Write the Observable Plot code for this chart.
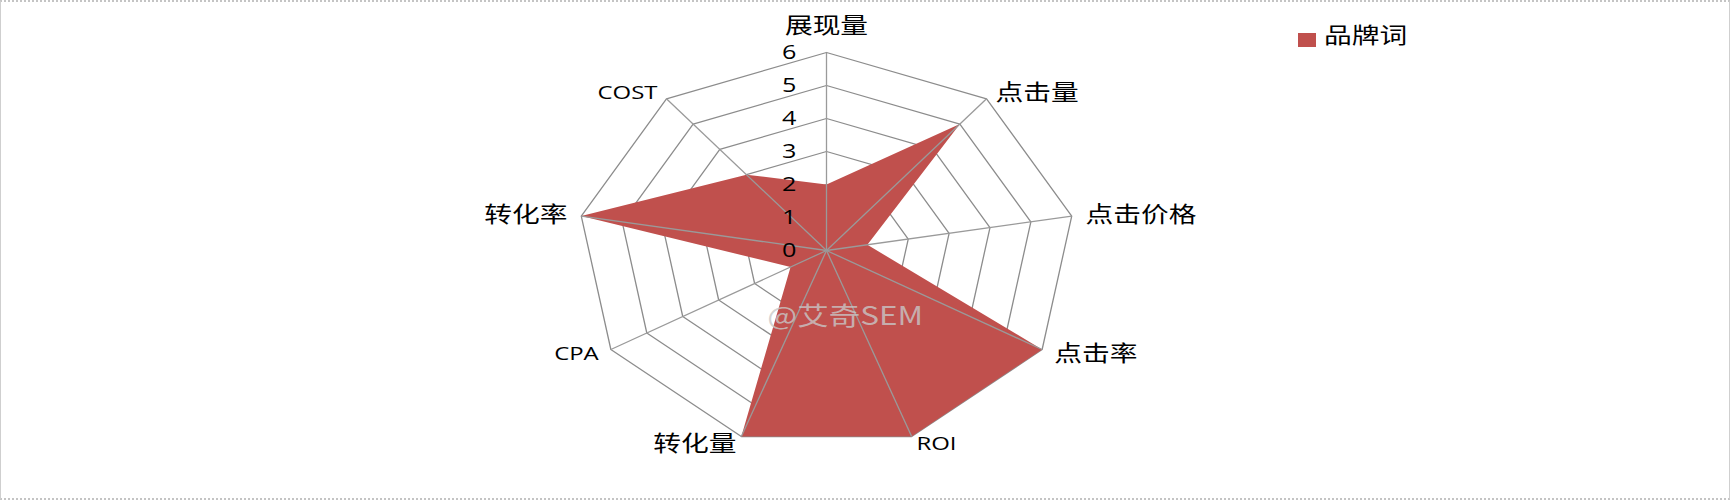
<!DOCTYPE html>
<html>
<head>
<meta charset="utf-8">
<script src="https://cdn.jsdelivr.net/npm/d3@7"></script>
<script src="https://cdn.jsdelivr.net/npm/@observablehq/plot@0.6"></script>
<style>
  html, body { margin: 0; padding: 0; background: #fff; }
  #wrap { position: relative; width: 1730px; height: 500px; overflow: hidden; background: #fff; }
  #frame { position: absolute; left: 0; top: 0; width: 1730px; height: 500px; box-sizing: border-box;
           border-left: 1px solid #cfcfcf; border-right: 1px solid #cfcfcf;
           border-top: 2px dotted #c4c4c4; border-bottom: 2px dotted #c4c4c4; pointer-events: none; }
  #legend { position: absolute; left: 1298px; top: 18px; display: flex; align-items: flex-start;
            font-family: "Noto Sans CJK SC", sans-serif; font-size: 22px; line-height: 30px; color: #000; }
  #legend .sw { width: 18px; height: 14px; background: #C0504D; margin-right: 8px; margin-top: 15px; }
  #legend .lb { display: inline-block; transform: scaleX(1.26); transform-origin: left center; }
</style>
</head>
<body>
<div id="wrap">
  <div id="chart"></div>
  <div id="legend"><div class="sw"></div><span class="lb" id="legendLabel"></span></div>
  <div id="frame"></div>
</div>
<script>
// ---- data ----
const axes = ["展现量", "点击量", "点击价格", "点击率", "ROI", "转化量", "CPA", "转化率", "COST"];
const values = [2, 5, 1, 6, 6, 6, 1, 6, 3];
const ticks = [0, 1, 2, 3, 4, 5, 6];
const seriesName = "品牌词";
const maxValue = 6;
const watermark = "@艾奇SEM";

// ---- helpers ----
const n = axes.length;
const ang = i => 2 * Math.PI * i / n;
const px = (r, i) => r * Math.sin(ang(i));
const py = (r, i) => r * Math.cos(ang(i));

const rings = ticks.filter(t => t > 0).flatMap(t => axes.map((a, i) => ({t, i})));
const pts = values.map((v, i) => ({v, i}));
const isLatin = s => /^[A-Za-z]+$/.test(s);

const labelMarks = axes.map((name, i) => {
  const s = Math.sin(ang(i)), c = Math.cos(ang(i));
  const anchor = s > 0.1 ? "start" : s < -0.1 ? "end" : "middle";
  const top = Math.abs(s) < 0.1 && c > 0;
  return Plot.text([name], {
    x: px(maxValue, i), y: py(maxValue, i), text: d => d,
    textAnchor: anchor,
    dx: 14 * s,
    dy: top ? -27 : -8 * c,
    fontSize: isLatin(name) ? 19 : 22,
    fontWeight: 400,
    fontFamily: isLatin(name) ? "'Open Sans', 'Noto Sans', sans-serif" : "'Noto Sans CJK SC', sans-serif",
    fill: "#000"
  });
});

const chart = Plot.plot({
  width: 1730,
  height: 500,
  margin: 0,
  x: {domain: [-maxValue, maxValue], range: [577, 1075], axis: null},
  y: {domain: [-maxValue, maxValue], range: [448, 52], axis: null},
  style: {background: "transparent", fontFamily: "'Noto Sans', sans-serif"},
  marks: [
    Plot.line(rings, {x: d => px(d.t, d.i), y: d => py(d.t, d.i), z: "t", curve: "linear-closed",
      stroke: "#8c8c8c", strokeWidth: 1.3}),
    Plot.line(pts, {x: d => px(d.v, d.i), y: d => py(d.v, d.i), curve: "linear-closed",
      fill: "#C0504D", stroke: "none"}),
    Plot.link(axes.map((a, i) => i), {x1: 0, y1: 0, x2: i => px(maxValue, i), y2: i => py(maxValue, i),
      stroke: "#9a9a9a", strokeWidth: 1.3}),
    Plot.text(ticks, {x: 0, y: d => d, text: d => String(d), textAnchor: "end", dx: -30,
      fontSize: 20, fill: "#000", fontFamily: "'Open Sans', 'Noto Sans', sans-serif"}),
    ...labelMarks,
    Plot.text([watermark], {x: 0.45, y: -2, text: d => d, fontSize: 25,
      fontFamily: "'Noto Sans CJK SC', sans-serif", fill: "#c8c8c8", fillOpacity: 0.8})
  ]
});

document.getElementById("chart").appendChild(chart);
document.getElementById("legendLabel").textContent = seriesName;

// horizontal stretch of glyphs, as in the reference
chart.querySelectorAll("text").forEach(t => {
  const w = t.getComputedTextLength();
  if (w > 0) {
    t.setAttribute("textLength", (w * 1.26).toFixed(1));
    t.setAttribute("lengthAdjust", "spacingAndGlyphs");
  }
});
</script>
</body>
</html>
